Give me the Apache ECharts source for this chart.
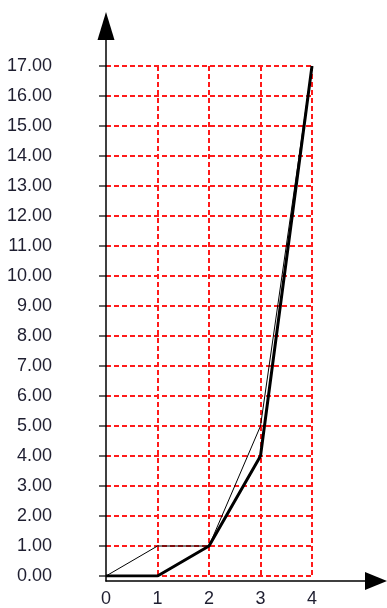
<!DOCTYPE html>
<html>
<head>
<meta charset="utf-8">
<script src="https://cdn.jsdelivr.net/npm/echarts@6/dist/echarts.min.js"></script>
<style>
  html, body { margin: 0; padding: 0; background: #fff; }
  #chart { width: 387px; height: 608px; }
</style>
</head>
<body>
<div id="chart"></div>
<script>
// x positions and the two curves
const xValues = [0, 1, 2, 3, 4]
const thickValues = [0, 0, 1, 4, 17]
const thinValues = [0, 1, 1, 5, 17]

const yMin = 0
const yMax = 17
const xMin = 0
const xMax = 4

const labelFont = {
  fontFamily: 'Liberation Sans, Arial, sans-serif',
  fontSize: 18,
  color: '#1e1e30'
}

const gridLine = { color: '#ff1a1a', type: [5, 3], width: 2 }

const toPairs = (vals) => xValues.map((x, i) => [x, vals[i]])

const chart = echarts.init(document.getElementById('chart'))

const option = {
  animation: false,
  backgroundColor: '#fff',
  grid: [
    // plot area with the red dashed grid
    { left: 106, right: 75, top: 66, bottom: 29 },
    // outer area only used to draw the arrowed axes
    { left: 106, right: 11, top: 26, bottom: 27 }
  ],
  xAxis: [
    {
      type: 'value',
      gridIndex: 0,
      min: xMin,
      max: xMax,
      interval: 1,
      axisLine: { show: false },
      axisTick: { show: false },
      axisLabel: {
        ...labelFont,
        margin: 14,
        formatter: (v) => String(v)
      },
      splitLine: { show: true, showMinLine: false, lineStyle: gridLine }
    },
    {
      type: 'value',
      gridIndex: 1,
      min: 0,
      max: 1,
      z: 10,
      axisLine: {
        show: true,
        symbol: ['none', 'triangle'],
        symbolSize: [18, 22],
        lineStyle: { color: '#000', width: 1.5 }
      },
      axisTick: { show: false },
      axisLabel: { show: false },
      splitLine: { show: false }
    }
  ],
  yAxis: [
    {
      type: 'value',
      gridIndex: 0,
      min: yMin,
      max: yMax,
      interval: 1,
      axisLine: { show: false },
      axisTick: {
        show: true,
        length: 7,
        lineStyle: { color: '#333', width: 1.5 }
      },
      axisLabel: {
        ...labelFont,
        margin: 54,
        formatter: (v) => v.toFixed(2)
      },
      splitLine: { show: true, lineStyle: gridLine }
    },
    {
      type: 'value',
      gridIndex: 1,
      min: 0,
      max: 1,
      z: 10,
      axisLine: {
        show: true,
        symbol: ['none', 'triangle'],
        symbolSize: [17, 28],
        lineStyle: { color: '#000', width: 1.5 }
      },
      axisTick: { show: false },
      axisLabel: { show: false },
      splitLine: { show: false }
    }
  ],
  series: [
    {
      name: 'thin',
      type: 'line',
      xAxisIndex: 0,
      yAxisIndex: 0,
      data: toPairs(thinValues),
      showSymbol: false,
      lineStyle: { color: '#000', width: 1 },
      z: 3
    },
    {
      name: 'thick',
      type: 'line',
      xAxisIndex: 0,
      yAxisIndex: 0,
      data: toPairs(thickValues),
      showSymbol: false,
      lineStyle: { color: '#000', width: 3 },
      z: 4
    }
  ]
}

chart.setOption(option)
</script>
</body>
</html>
